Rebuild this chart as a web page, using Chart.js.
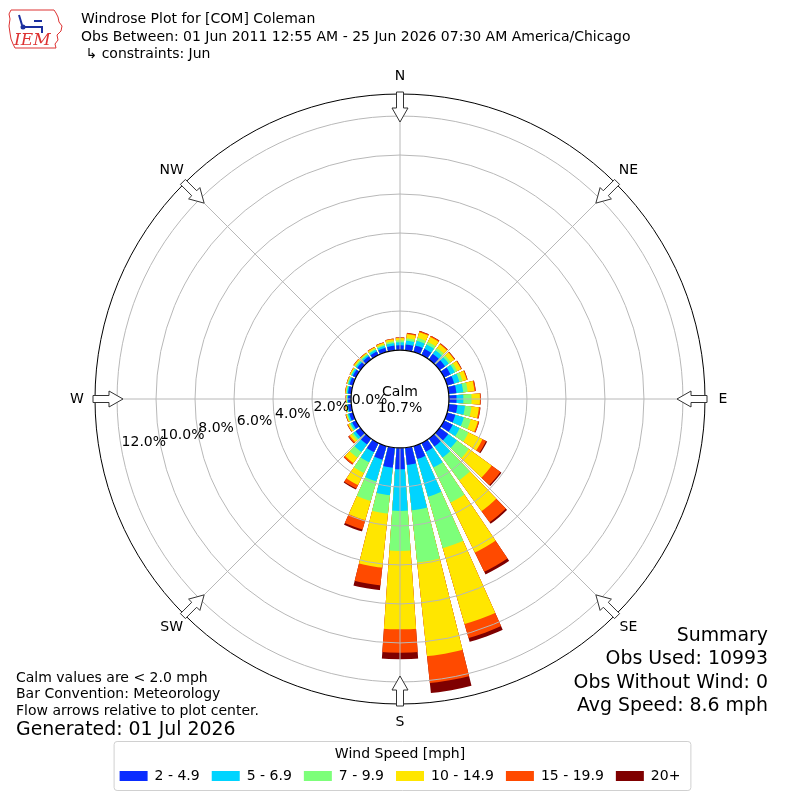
<!DOCTYPE html>
<html>
<head>
<meta charset="utf-8">
<script src="https://cdn.jsdelivr.net/npm/chart.js@4.4.1/dist/chart.umd.min.js"></script>
<style>
  html, body { margin: 0; padding: 0; background: #fff; }
  #wrap { position: relative; width: 800px; height: 800px; font-family: "DejaVu Sans", sans-serif; color: #000; }
  #rose { position: absolute; left: 0; top: 0; }
  .txt { position: absolute; white-space: nowrap; }
  .small { font-size: 14px; }
  .big { font-size: 18.9px; }
</style>
</head>
<body>
<div id="wrap">
  <canvas id="rose" width="800" height="800"></canvas>
  <div class="txt small" style="left:81px; top:10px; line-height:17.5px">Windrose Plot for [COM] Coleman<br>Obs Between: 01 Jun 2011 12:55 AM - 25 Jun 2026 07:30 AM America/Chicago<br>&nbsp;↳ constraints: Jun</div>
  <div class="txt small" style="left:16px; top:668.5px; line-height:16.5px">Calm values are &lt; 2.0 mph<br>Bar Convention: Meteorology<br>Flow arrows relative to plot center.</div>
  <div class="txt big" style="left:16px; top:717px; line-height:23px">Generated: 01 Jul 2026</div>
  <div class="txt big" style="right:32px; top:623px; line-height:23.3px; text-align:right">Summary<br>Obs Used: 10993<br>Obs Without Wind: 0<br>Avg Speed: 8.6 mph</div>
</div>
<script>
// direction bins (degrees, meteorological, 10 deg wide)
const directions = [0, 10, 20, 30, 40, 50, 60, 70, 80, 90, 100, 110,
  120, 130, 140, 150, 160, 170, 180, 190, 200, 210, 220, 230,
  240, 250, 260, 270, 280, 290, 300, 310, 320, 330, 340, 350];

const speedBins = ["2 - 4.9", "5 - 6.9", "7 - 9.9", "10 - 14.9", "15 - 19.9", "20+"];
const binColors = ["#0a2cff", "#00d4ff", "#7dff7a", "#ffe600", "#ff4a00", "#7f0000"];

// percent of obs in each speed bin, per direction
const pct2to5 = [0.25, 0.30, 0.35, 0.35, 0.35, 0.35, 0.37, 0.38, 0.40, 0.39, 0.45, 0.44,
  0.50, 0.55, 0.50, 0.50, 0.69, 0.89, 1.09, 1.03, 0.73, 0.52, 0.37, 0.30,
  0.22, 0.20, 0.17, 0.15, 0.17, 0.18, 0.18, 0.20, 0.20, 0.20, 0.22, 0.24];
const pct5to7 = [0.15, 0.20, 0.25, 0.25, 0.23, 0.23, 0.25, 0.28, 0.35, 0.35, 0.39, 0.46,
  0.40, 0.55, 0.70, 0.90, 2.01, 2.34, 2.14, 1.42, 1.15, 0.58, 0.48, 0.15,
  0.10, 0.08, 0.06, 0.05, 0.06, 0.07, 0.08, 0.09, 0.09, 0.10, 0.11, 0.13];
const pct7to10 = [0.10, 0.12, 0.15, 0.15, 0.14, 0.12, 0.13, 0.16, 0.23, 0.42, 0.33, 0.37,
  0.50, 0.75, 1.45, 2.00, 2.75, 2.69, 2.05, 0.95, 1.05, 0.61, 0.36, 0.10,
  0.06, 0.04, 0.04, 0.03, 0.04, 0.04, 0.04, 0.06, 0.06, 0.06, 0.07, 0.09];
const pct10to15 = [0.12, 0.22, 0.30, 0.28, 0.24, 0.23, 0.22, 0.23, 0.35, 0.43, 0.39, 0.38,
  0.80, 1.45, 1.95, 2.85, 4.05, 4.83, 4.02, 2.78, 1.02, 0.69, 0.34, 0.13,
  0.08, 0.05, 0.03, 0.03, 0.04, 0.04, 0.05, 0.07, 0.06, 0.07, 0.09, 0.11];
const pct15to20 = [0.03, 0.05, 0.06, 0.06, 0.05, 0.04, 0.04, 0.04, 0.06, 0.04, 0.07, 0.06,
  0.20, 0.55, 0.70, 1.10, 0.74, 1.39, 1.20, 0.92, 0.50, 0.20, 0.09, 0.08,
  0.03, 0.02, 0.02, 0.02, 0.02, 0.02, 0.02, 0.03, 0.03, 0.03, 0.03, 0.03];
const pct20up = [0.00, 0.01, 0.01, 0.01, 0.01, 0.01, 0.01, 0.01, 0.01, 0.00, 0.01, 0.01,
  0.06, 0.07, 0.10, 0.15, 0.21, 0.51, 0.34, 0.25, 0.10, 0.05, 0.01, 0.02,
  0.01, 0.01, 0.00, 0.00, 0.00, 0.00, 0.00, 0.00, 0.00, 0.00, 0.00, 0.00];

const calmPct = 10.7;
const ringTicks = [0, 2, 4, 6, 8, 10, 12];
const compassNames = ["N", "NE", "E", "SE", "S", "SW", "W", "NW"];

// radial axis: 0% sits on the calm circle edge
const rMin = -2.51;
const rMax = 13.13;
const barWidthDeg = 8;
const FONT = "DejaVu Sans";

Chart.defaults.font.family = FONT;
Chart.defaults.color = "#000";

// stack bins outward: each dataset is the running total
const binValues = [pct2to5, pct5to7, pct7to10, pct10to15, pct15to20, pct20up];
let running = directions.map(() => 0);
const datasets = binValues.map((vals, k) => {
  running = running.map((s, i) => s + vals[i]);
  return {
    label: speedBins[k],
    data: running.slice(),
    backgroundColor: binColors[k],
    borderWidth: 0
  };
});

const toRad = d => d * Math.PI / 180;
const canvasAngle = deg => toRad(deg - 90);

const rosePlugin = {
  id: "rose",
  beforeDatasetsDraw(chart) {
    // clip every 10 deg wedge down to a narrower bar so gaps show
    const s = chart.scales.r, ctx = chart.ctx;
    const half = toRad(barWidthDeg / 2);
    ctx.save();
    ctx.beginPath();
    directions.forEach(d => {
      const a = canvasAngle(d);
      ctx.moveTo(s.xCenter, s.yCenter);
      ctx.arc(s.xCenter, s.yCenter, s.drawingArea + 5, a - half, a + half);
      ctx.closePath();
    });
    ctx.clip();
  },
  afterDatasetsDraw(chart) {
    const s = chart.scales.r, ctx = chart.ctx;
    ctx.restore();
    const R = s.getDistanceFromCenterForValue(rMax);
    ctx.save();
    ctx.strokeStyle = "#b8b8b8";
    ctx.lineWidth = 1;
    for (let k = 0; k < 8; k++) {
      const a = canvasAngle(k * 45);
      ctx.beginPath();
      ctx.moveTo(s.xCenter, s.yCenter);
      ctx.lineTo(s.xCenter + R * Math.cos(a), s.yCenter + R * Math.sin(a));
      ctx.stroke();
    }
    ctx.restore();
  },
  afterDraw(chart) {
    const s = chart.scales.r, ctx = chart.ctx;
    const cx = s.xCenter, cy = s.yCenter;
    const R = s.getDistanceFromCenterForValue(rMax);
    ctx.save();

    // outer frame
    ctx.beginPath();
    ctx.arc(cx, cy, R, 0, Math.PI * 2);
    ctx.strokeStyle = "#000";
    ctx.lineWidth = 1;
    ctx.stroke();

    // inward flow arrows + compass names
    const arrow = [[0, -3.5], [16, -3.5], [16, -8], [30, 0], [16, 8], [16, 3.5], [0, 3.5]];
    ctx.font = "14px " + FONT;
    ctx.textAlign = "center";
    ctx.textBaseline = "middle";
    compassNames.forEach((name, k) => {
      const a = canvasAngle(k * 45);
      const ux = -Math.cos(a), uy = -Math.sin(a);
      const vx = -uy, vy = ux;
      const ox = cx + (R + 2) * Math.cos(a), oy = cy + (R + 2) * Math.sin(a);
      ctx.beginPath();
      arrow.forEach(([u, v], j) => {
        const px = ox + u * ux + v * vx, py = oy + u * uy + v * vy;
        if (j === 0) ctx.moveTo(px, py); else ctx.lineTo(px, py);
      });
      ctx.closePath();
      ctx.fillStyle = "#fff";
      ctx.fill();
      ctx.strokeStyle = "#333";
      ctx.lineWidth = 1;
      ctx.stroke();
      ctx.fillStyle = "#000";
      ctx.fillText(name, cx + (R + 18) * Math.cos(a), cy + (R + 18) * Math.sin(a));
    });

    // calm circle
    const r0 = s.getDistanceFromCenterForValue(0);
    ctx.beginPath();
    ctx.arc(cx, cy, r0, 0, Math.PI * 2);
    ctx.fillStyle = "#fff";
    ctx.fill();
    ctx.strokeStyle = "#000";
    ctx.lineWidth = 1.2;
    ctx.stroke();
    ctx.fillStyle = "#000";
    ctx.fillText("Calm", cx, cy - 7);
    ctx.fillText(calmPct.toFixed(1) + "%", cx, cy + 9);

    // ring labels along a ray just below west
    const th = toRad(10.3);
    ctx.textAlign = "left";
    ringTicks.forEach(v => {
      const r = s.getDistanceFromCenterForValue(v);
      ctx.fillText(v.toFixed(1) + "%", cx - r * Math.cos(th), cy + r * Math.sin(th) - 7);
    });

    // frame around the legend
    const hb = chart.legend.legendHitBoxes;
    if (hb && hb.length) {
      const last = hb[hb.length - 1];
      const x0 = hb[0].left - 6, x1 = last.left + last.width + 10;
      const y0 = 741, y1 = 790;
      ctx.beginPath();
      ctx.roundRect(x0 + 0.5, y0 + 0.5, x1 - x0, y1 - y0, 3);
      ctx.strokeStyle = "#d0d0d0";
      ctx.lineWidth = 1;
      ctx.stroke();
    }

    // IEM logo
    const iowa = [[11, 10], [54, 10], [56, 13], [58, 17], [59, 22], [62, 26], [61, 31], [57, 35],
      [58, 40], [55, 44], [56, 48], [15, 48], [13, 44], [11, 39], [10, 33], [9, 26], [10, 19], [9, 14]];
    ctx.beginPath();
    iowa.forEach(([x, y], j) => { if (j === 0) ctx.moveTo(x, y); else ctx.lineTo(x, y); });
    ctx.closePath();
    ctx.strokeStyle = "#d33";
    ctx.lineWidth = 1;
    ctx.stroke();
    ctx.strokeStyle = "#1b2f9e";
    ctx.lineWidth = 2;
    ctx.beginPath();
    ctx.moveTo(24, 27); ctx.lineTo(42, 27); ctx.lineTo(42, 33);
    ctx.moveTo(19, 15); ctx.lineTo(22, 25);
    ctx.moveTo(34, 21); ctx.lineTo(42, 21);
    ctx.stroke();
    ctx.beginPath();
    ctx.arc(23, 27, 2.5, 0, Math.PI * 2);
    ctx.fillStyle = "#1b2f9e";
    ctx.fill();
    ctx.font = "italic 17px 'DejaVu Serif', serif";
    ctx.fillStyle = "#d33";
    ctx.textAlign = "left";
    ctx.textBaseline = "alphabetic";
    ctx.fillText("IEM", 14, 45);
    ctx.restore();
  }
};

new Chart(document.getElementById("rose"), {
  type: "polarArea",
  data: { labels: directions.map(d => d + "°"), datasets: datasets },
  options: {
    responsive: false,
    animation: false,
    layout: { padding: { left: 95, right: 95, top: 93, bottom: 7 } },
    scales: {
      r: {
        min: rMin,
        max: rMax,
        startAngle: -5,
        afterBuildTicks: scale => { scale.ticks = ringTicks.map(v => ({ value: v })); },
        ticks: { display: false },
        grid: { z: 1, color: "#b8b8b8", lineWidth: 1, circular: true },
        angleLines: { display: false },
        pointLabels: { display: false }
      }
    },
    plugins: {
      tooltip: { enabled: false },
      legend: {
        position: "bottom",
        labels: {
          boxWidth: 28,
          boxHeight: 10,
          padding: 12,
          color: "#000",
          font: { size: 14 },
          generateLabels: chart => chart.data.datasets.map((ds, i) => ({
            text: ds.label,
            fillStyle: ds.backgroundColor,
            strokeStyle: ds.backgroundColor,
            lineWidth: 0,
            hidden: false,
            datasetIndex: i
          }))
        },
        title: {
          display: true,
          text: "Wind Speed [mph]",
          color: "#000",
          font: { size: 14, lineHeight: "10px" },
          padding: { top: 42, bottom: 0 }
        }
      }
    }
  },
  plugins: [rosePlugin]
});
</script>
</body>
</html>
